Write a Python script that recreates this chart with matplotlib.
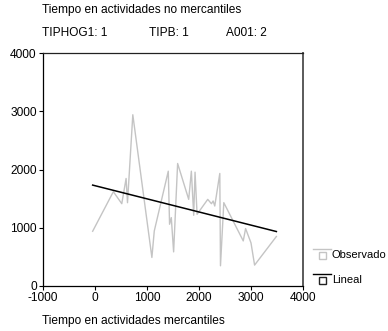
import matplotlib
matplotlib.use("Agg")
import matplotlib.pyplot as plt
from matplotlib.lines import Line2D
from matplotlib.patches import Rectangle
import numpy as np

plt.rcParams["font.family"] = ["Liberation Sans", "DejaVu Sans"]
plt.rcParams["axes.unicode_minus"] = False

# observed curve (sorted by x)
x_obs = [-45, 353, 515, 598, 625, 727, 1094, 1140, 1409, 1434, 1467, 1512,
         1589, 1802, 1853, 1898, 1924, 1963, 2168, 2239, 2272, 2303, 2400,
         2413, 2477, 2851, 2896, 3000, 3069, 3488]
y_obs = [940, 1619, 1413, 1846, 1430, 2940, 490, 945, 1971, 1060, 1174, 586,
         2103, 1487, 1971, 1214, 1954, 1231, 1487, 1413, 1459, 1373, 1932,
         347, 1431, 774, 986, 740, 359, 850]

# linear fit coefficients
fit_intercept = 1722.0
fit_slope = -0.2256

title = "Tiempo en actividades no mercantiles"
subtitles = ["TIPHOG1: 1", "TIPB: 1", "A001: 2"]
xlabel = "Tiempo en actividades mercantiles"
xticks = [-1000, 0, 1000, 2000, 3000, 4000]
yticks = [0, 1000, 2000, 3000, 4000]
legend_labels = ["Observado", "Lineal"]

W, H = 388, 331
fig = plt.figure(figsize=(W / 100, H / 100), dpi=100)
ax = fig.add_axes([43 / W, 1 - 286 / H, 260 / W, 233 / H])

gray = "#c4c4c4"
ax.plot(x_obs, y_obs, color=gray, lw=1.0)
xf = np.array([min(x_obs), max(x_obs)])
ax.plot(xf, fit_intercept + fit_slope * xf, color="black", lw=1.1)

ax.set_xlim(-1000, 4000)
ax.set_ylim(0, 4000)
ax.set_xticks(xticks)
ax.set_yticks(yticks)
ax.tick_params(direction="out", length=3, width=0.8, labelsize=8.6, pad=1.5)
for s in ["left", "bottom", "top"]:
    ax.spines[s].set_linewidth(0.9)
    ax.spines[s].set_color("black")
ax.spines["right"].set_color("#5a5a5a")
ax.spines["right"].set_linewidth(1.4)
ax.spines["top"].set_color("#222222")

def fx(px):
    return px / W

def fy(py):
    return 1 - py / H

fs = 8.6
fig.text(fx(42), fy(10), title, fontsize=fs, va="center", ha="left")
for px, s in zip([42, 149, 226], subtitles):
    fig.text(fx(px), fy(33), s, fontsize=fs, va="center", ha="left")
fig.text(fx(42), fy(321), xlabel, fontsize=fs, va="center", ha="left")

# legend: line on top, small square below
for (ly, sy, col, lab) in [(248.5, 255, gray, legend_labels[0]),
                           (273.5, 280, "black", legend_labels[1])]:
    fig.add_artist(Line2D([fx(313), fx(331)], [fy(ly), fy(ly)], color=col,
                          lw=1.0, transform=fig.transFigure))
    fig.add_artist(Rectangle((fx(319), fy(sy + 3.5)), 7 / W, 7 / H,
                             facecolor="white", edgecolor=col if col != "black" else "#222222",
                             lw=1.0, transform=fig.transFigure))
    fig.text(fx(332), fy(sy), lab, fontsize=8.0, va="center", ha="left")

fig.savefig("out.png", dpi=100)
